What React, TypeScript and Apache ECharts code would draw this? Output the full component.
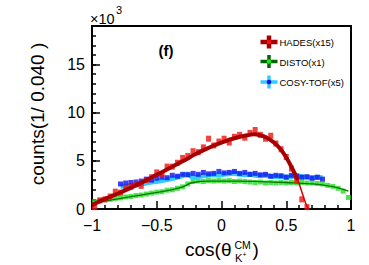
import { useEffect, useRef } from "react";
import * as echarts from "echarts";

// Histogram binning: cos(theta) in [-1, 1], bin width 0.040
const BIN_WIDTH = 0.04;
const X_START = -1;

// HADES (x15), bins 0..41
const hadesFirstBin = 0;
const hadesValues = [
  0.2, 0.9, 1.0, 1.3, 1.8, 1.7, 2.2, 2.3, 2.6, 2.4,
  3.0, 3.3, 3.8, 3.6, 4.4, 4.4, 4.8, 5.3, 5.5, 6.0,
  5.9, 6.4, 7.3, 6.6, 7.0, 7.3, 6.9, 7.5, 7.7, 7.4,
  7.9, 8.2, 7.7, 7.3, 7.6, 6.8, 6.2, 5.4, 4.2, 3.0,
  1.0, 0.2,
];

// HADES fit curve
const hadesFitX = [-1.0, -0.9, -0.8, -0.7, -0.6, -0.5, -0.4, -0.3, -0.2, -0.1, 0.0, 0.1, 0.2, 0.25, 0.3, 0.35, 0.4, 0.45, 0.5, 0.55, 0.59];
const hadesFitY = [0.4, 1.05, 1.6, 2.2, 2.85, 3.55, 4.25, 4.95, 5.7, 6.35, 6.9, 7.35, 7.65, 7.75, 7.65, 7.4, 6.95, 6.3, 5.35, 4.1, 3.0];
const hadesTailX = [0.59, 0.62, 0.65, 0.672];
const hadesTailY = [3.0, 1.8, 0.6, 0.0];

// DISTO (x1), bins 0..49
const distoFirstBin = 0;
const distoValues = [
  0.75, 0.85, 0.95, 1.0, 1.1, 1.15, 1.25, 1.3, 1.4, 1.45,
  1.55, 1.65, 1.75, 1.8, 1.95, 2.0, 2.15, 2.3, 2.6, 2.85,
  2.9, 2.85, 2.95, 2.9, 2.95, 2.9, 2.95, 2.85, 2.9, 2.85,
  2.8, 2.75, 2.8, 2.7, 2.75, 2.7, 2.75, 2.7, 2.75, 2.7,
  2.75, 2.7, 2.7, 2.65, 2.6, 2.45, 2.35, 2.15, 1.85, 1.2,
];
const distoFitX = [-1.0, -0.8, -0.6, -0.4, -0.3, -0.22, -0.1, 0.1, 0.3, 0.5, 0.7, 0.8, 0.9, 0.98];
const distoFitY = [0.6, 1.05, 1.5, 1.95, 2.3, 2.75, 2.9, 2.9, 2.85, 2.75, 2.6, 2.45, 2.2, 1.85];

// COSY-TOF (x5), bins 5..44
const cosyFirstBin = 5;
const cosyValues = [
  2.6, 2.7, 2.75, 2.8, 2.9, 3.1, 3.0, 3.2, 3.3, 3.25,
  3.5, 3.4, 3.6, 3.55, 3.7, 3.6, 3.8, 3.65, 3.7, 3.9,
  3.75, 3.8, 3.9, 3.7, 3.8, 3.6, 3.7, 3.55, 3.6, 3.4,
  3.5, 3.45, 3.3, 3.5, 3.4, 3.3, 3.35, 3.2, 3.3, 3.1,
];
const cosyBandValues = [
  2.35, 2.35, 2.45, 2.5, 2.6, 2.7, 2.8, 2.85, 2.95, 3.05,
  3.15, 3.3, 3.45, 3.65, 3.25, 3.35, 3.45, 3.5, 3.55, 3.5,
  3.6, 3.65, 3.7, 3.6, 3.55, 3.6, 3.5, 3.45, 3.5, 3.4,
  3.35, 3.4, 3.3, 3.35, 3.5, 3.35, 3.3, 3.25, 3.3, 3.25,
];

// Axis ticks
const xTicks = [-1, -0.5, 0, 0.5, 1];
const yTicks = [0, 5, 10, 15];

const binned = (first: number, vals: number[]) =>
  vals.map((v, i) => [X_START + (first + i + 0.5) * BIN_WIDTH, v]);
const paired = (xs: number[], ys: number[]) => xs.map((x, i) => [x, ys[i]]);

const FONT = "Liberation Sans, Arial, Helvetica, sans-serif";

function legendCross(cy: number, bar: string, barW: number, dot: string, dotSquare: boolean) {
  const cx = 269;
  return [
    { type: "rect", shape: { x: cx - 8.5, y: cy - barW / 2, width: 17, height: barW }, style: { fill: bar } },
    { type: "rect", shape: { x: cx - barW / 2, y: cy - 6.5, width: barW, height: 13 }, style: { fill: bar } },
    dotSquare
      ? { type: "rect", shape: { x: cx - 2, y: cy - 2, width: 4, height: 4 }, style: { fill: dot } }
      : { type: "circle", shape: { cx, cy, r: 2.3 }, style: { fill: dot } },
  ];
}

export default function App() {
  const ref = useRef<HTMLDivElement>(null);

  useEffect(() => {
    if (!ref.current) return;
    const chart = echarts.init(ref.current, undefined, { renderer: "svg" });

    const tickStyle = { color: "#000", width: 1.5 };
    const labelStyle = { color: "#000", fontSize: 16, fontFamily: FONT };

    chart.setOption({
      animation: false,
      grid: {
        left: 92, right: 18, top: 26, bottom: 56,
        show: true, borderColor: "#000", borderWidth: 2,
      },
      xAxis: {
        type: "value", min: xTicks[0], max: xTicks[xTicks.length - 1], interval: 0.5,
        axisLine: { show: true, onZero: false, lineStyle: { color: "#000", width: 2 } },
        axisTick: { show: true, inside: true, length: 8, lineStyle: tickStyle },
        minorTick: { show: true, splitNumber: 5, length: 4, lineStyle: tickStyle },
        splitLine: { show: false },
        axisLabel: {
          ...labelStyle, margin: 8,
          formatter: (v: number) => String(v).replace("-", "\u2212"),
        },
      },
      yAxis: [
        {
          type: "value", min: yTicks[0], max: 19, interval: 5,
          axisLine: { show: true, onZero: false, lineStyle: { color: "#000", width: 2 } },
          axisTick: { show: true, inside: true, length: 8, lineStyle: tickStyle },
          splitLine: { show: false },
          axisLabel: { ...labelStyle, margin: 7, showMaxLabel: false },
        },
        {
          // unit ticks between the labelled ones
          type: "value", min: 0, max: 19, interval: 1, position: "left",
          axisLine: { show: false, onZero: false },
          axisTick: { show: true, inside: true, length: 4, lineStyle: tickStyle },
          splitLine: { show: false },
          axisLabel: { show: false },
        },
      ],
      series: [
        {
          type: "scatter", name: "DISTO", data: binned(distoFirstBin, distoValues),
          symbol: "rect", symbolSize: 5, itemStyle: { color: "#22dd22" }, z: 2,
        },
        {
          type: "line", name: "DISTO fit", data: paired(distoFitX, distoFitY), smooth: true,
          showSymbol: false, lineStyle: { color: "#007700", width: 1.3 }, z: 3,
        },
        {
          type: "line", name: "COSY-TOF band", data: binned(cosyFirstBin, cosyBandValues),
          showSymbol: false, lineStyle: { color: "#33ccff", width: 5 }, z: 4,
        },
        {
          type: "scatter", name: "COSY-TOF", data: binned(cosyFirstBin, cosyValues),
          symbol: "rect", symbolSize: 5, itemStyle: { color: "#1010ee" }, z: 5,
        },
        {
          type: "scatter", name: "HADES", data: binned(hadesFirstBin, hadesValues),
          symbol: "rect", symbolSize: [5, 6], itemStyle: { color: "#ee1111" }, z: 6,
        },
        {
          type: "line", name: "HADES fit", data: paired(hadesFitX, hadesFitY), smooth: true,
          showSymbol: false, lineStyle: { color: "#a80000", width: 4 }, z: 7,
        },
        {
          type: "line", name: "HADES fit tail", data: paired(hadesTailX, hadesTailY), smooth: true,
          showSymbol: false, lineStyle: { color: "#d80000", width: 1.5 }, z: 7,
        },
      ],
      graphic: [
        // exponent above the y axis
        { type: "text", x: 90, y: 19, style: { text: "\u00d710", fontSize: 14.5, fontFamily: FONT, fill: "#000", verticalAlign: "middle" } },
        { type: "text", x: 116, y: 10, style: { text: "3", fontSize: 11, fontFamily: FONT, fill: "#000", verticalAlign: "middle" } },
        // panel tag
        { type: "text", x: 166, y: 50, style: { text: "(f)", fontSize: 15, fontWeight: "bold", fontFamily: FONT, fill: "#000", align: "center", verticalAlign: "middle" } },
        // legend
        ...legendCross(42, "#a80000", 4.5, "#ee1111", true),
        ...legendCross(61.5, "#006600", 3.5, "#22dd22", false),
        ...legendCross(82, "#33ccff", 3.5, "#1010ee", false),
        { type: "text", x: 279.5, y: 42, style: { text: "HADES(x15)", fontSize: 9.5, fontFamily: FONT, fill: "#000", verticalAlign: "middle" } },
        { type: "text", x: 279.5, y: 62, style: { text: "DISTO(x1)", fontSize: 9.5, fontFamily: FONT, fill: "#000", verticalAlign: "middle" } },
        { type: "text", x: 279.5, y: 82.5, style: { text: "COSY-TOF(x5)", fontSize: 9.5, fontFamily: FONT, fill: "#000", verticalAlign: "middle" } },
        // y axis title
        {
          type: "text", x: 37, y: 114, rotation: Math.PI / 2,
          style: { text: "counts(1/ 0.040 )", fontSize: 19, fontFamily: FONT, fill: "#000", align: "center", verticalAlign: "middle" },
        },
        // x axis title: cos(theta^CM_K+)
        { type: "text", x: 185, y: 249, style: { text: "cos(\u03b8", fontSize: 19, fontFamily: FONT, fill: "#000", verticalAlign: "middle" } },
        { type: "text", x: 234.5, y: 245, style: { text: "CM", fontSize: 10.5, fontFamily: FONT, fill: "#000", verticalAlign: "middle" } },
        { type: "text", x: 235, y: 258, style: { text: "K", fontSize: 11, fontFamily: FONT, fill: "#000", verticalAlign: "middle" } },
        { type: "text", x: 242.5, y: 254.5, style: { text: "+", fontSize: 7, fontFamily: FONT, fill: "#000", verticalAlign: "middle" } },
        { type: "text", x: 252.5, y: 249, style: { text: ")", fontSize: 19, fontFamily: FONT, fill: "#000", verticalAlign: "middle" } },
      ],
    });

    return () => chart.dispose();
  }, []);

  return (
    <div
      ref={ref}
      style={{ position: "fixed", left: 0, top: 0, width: 369, height: 265, background: "#fff" }}
    />
  );
}
